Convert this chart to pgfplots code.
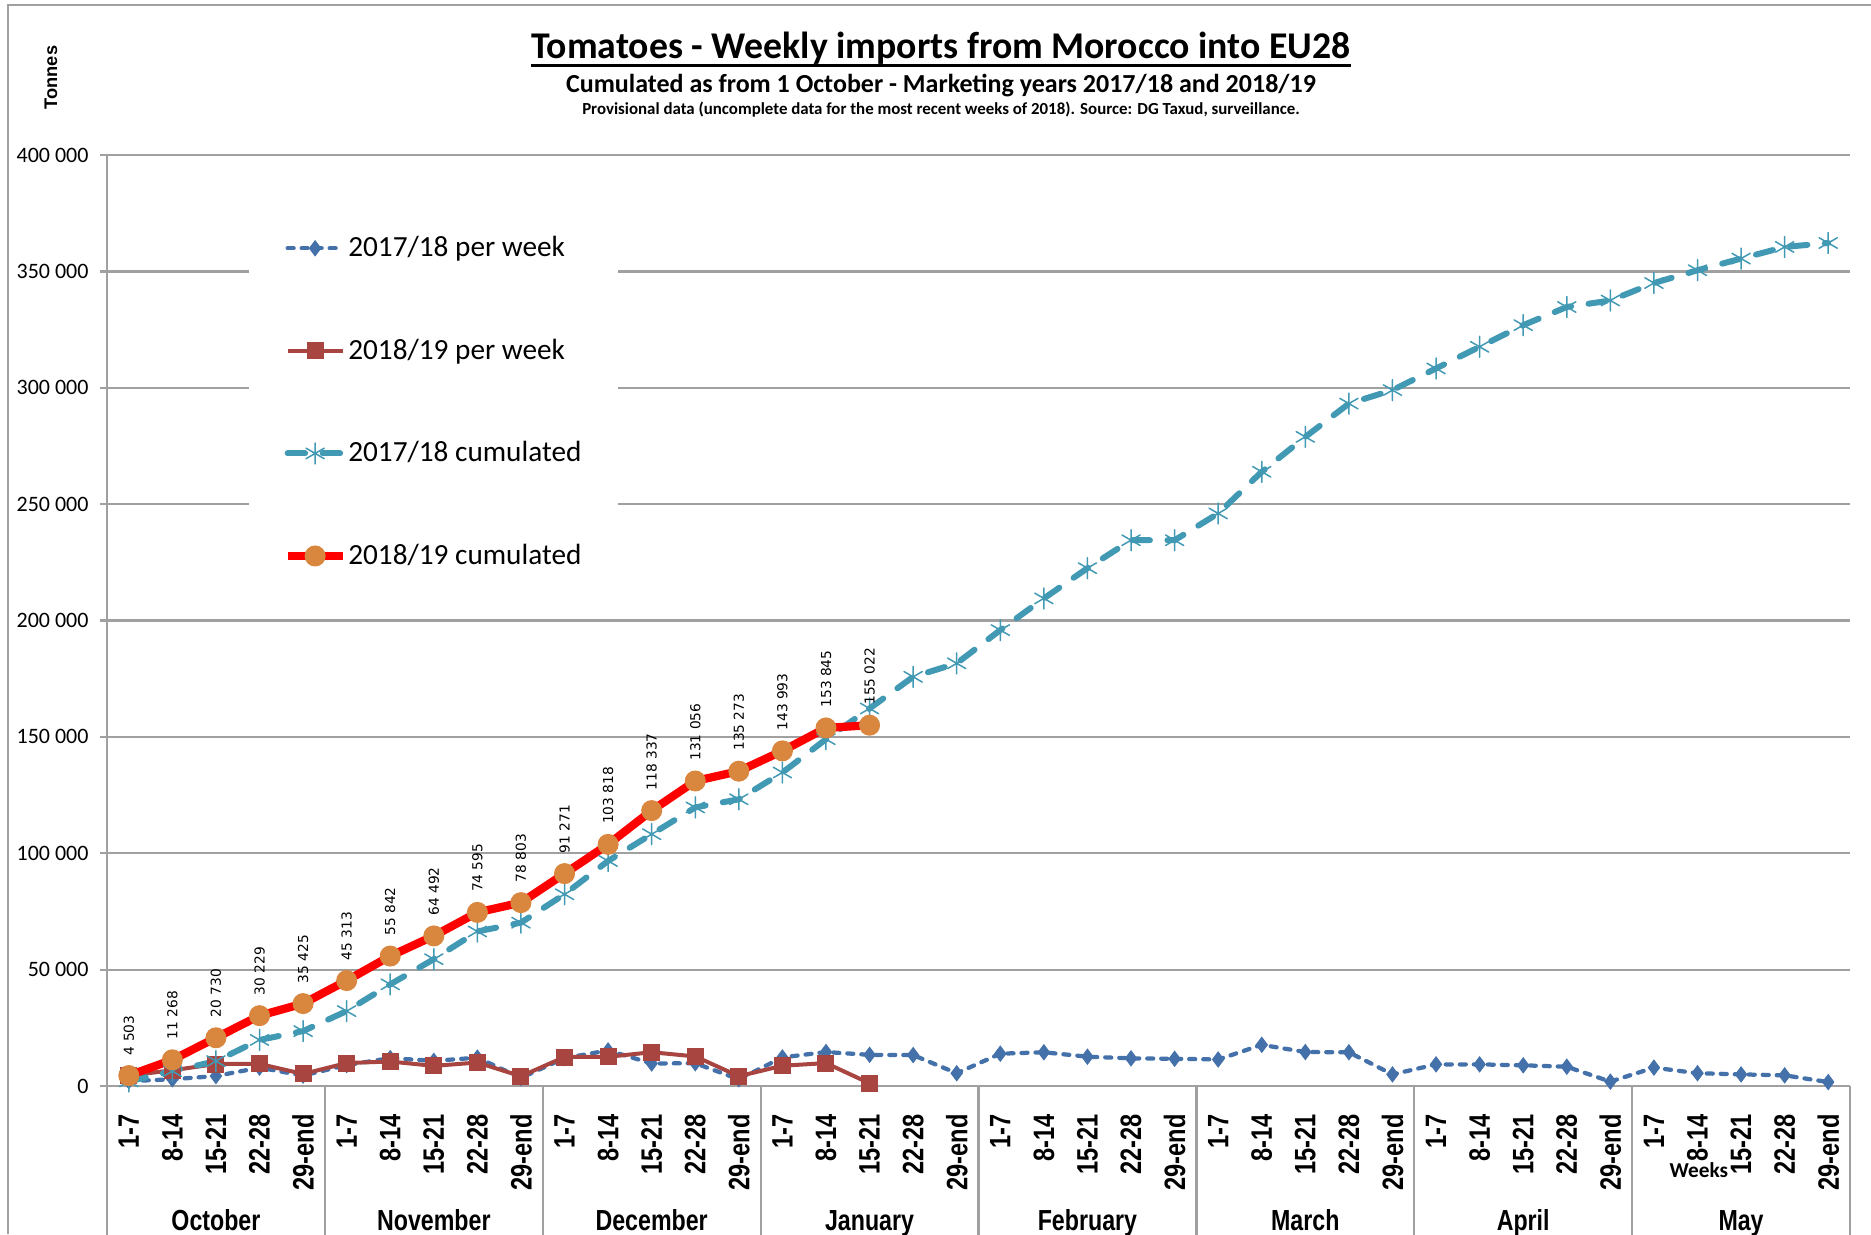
\documentclass[border=0pt]{standalone}
\usepackage{pgfplots}
\pgfplotsset{compat=1.18}
\usepackage{fontspec}
\setmainfont{Carlito}
\newfontfamily\carlito{Carlito}
\newfontfamily\narrowbf[FakeStretch=0.8]{Liberation Sans Bold}
\newfontfamily\arialbf{Liberation Sans Bold}
\newfontfamily\dejavu{DejaVu Sans}
\definecolor{blueW}{HTML}{4571AA}
\definecolor{redW}{HTML}{A84541}
\definecolor{tealC}{HTML}{4299B4}
\definecolor{orangeC}{HTML}{D9863E}
\definecolor{gridgray}{HTML}{A0A0A0}
\tikzset{
  sep/.style={gridgray, line width=0.9pt},
  month/.style={anchor=base, inner sep=0pt, font=\narrowbf\fontsize{11.6}{12}\selectfont, yshift=-57.6pt},
}
\begin{document}
\begin{tikzpicture}
\useasboundingbox (0pt,0pt) rectangle (748.4pt,-493.6pt);
\draw[gridgray, line width=0.8pt] (3.2pt,-493.6pt) -- (3.2pt,-2pt) -- (748.4pt,-2pt);
% titles
\node[anchor=base, inner sep=0pt, font=\carlito\bfseries\fontsize{15.1}{18}\selectfont] (t) at (376.4pt,-23.2pt) {Tomatoes - Weekly imports from Morocco into EU28};
\draw[line width=1.3pt] ([yshift=-0.4pt]t.south west) -- ([yshift=-0.4pt]t.south east);
\node[anchor=base, inner sep=0pt, font=\carlito\bfseries\fontsize{10.4}{12}\selectfont] at (376.4pt,-36.8pt) {Cumulated as from 1 October - Marketing years 2017/18 and 2018/19};
\node[anchor=base, inner sep=0pt, font=\carlito\bfseries\fontsize{6.75}{7.5}\selectfont] at (376.4pt,-45.8pt) {Provisional data (uncomplete data for the most recent weeks of 2018). Source: DG Taxud, surveillance.};
\node[rotate=90, inner sep=0pt, font=\arialbf\fontsize{7.3}{8}\selectfont] at (20.4pt,-31pt) {Tonnes};
\begin{axis}[
  at={(42.8pt,-434.4pt)}, anchor=south west, scale only axis,
  width=697.2pt, height=372.4pt,
  xmin=-0.5, xmax=39.5, ymin=0, ymax=400000,
  clip=false,
  axis lines*=left,
  axis line style={gridgray, line width=0.9pt},
  ytick={0,50000,...,400000},
  ymajorgrids, grid style={gridgray, line width=0.9pt},
  scaled y ticks=false,
  tick align=outside, major tick length=2.8pt,
  ytick style={gridgray, line width=0.9pt},
  xtick style={draw=none},
  yticklabel style={font=\carlito\fontsize{8.8}{10}\selectfont, inner sep=0pt, xshift=-4.4pt,
    /pgf/number format/fixed, /pgf/number format/1000 sep={\ }, /pgf/number format/assume math mode=true},
  xtick={0,...,39},
  xticklabels={1-7,8-14,15-21,22-28,29-end,1-7,8-14,15-21,22-28,29-end,1-7,8-14,15-21,22-28,29-end,1-7,8-14,15-21,22-28,29-end,1-7,8-14,15-21,22-28,29-end,1-7,8-14,15-21,22-28,29-end,1-7,8-14,15-21,22-28,29-end,1-7,8-14,15-21,22-28,29-end},
  xticklabel style={rotate=90, anchor=east, inner sep=0pt, font=\narrowbf\fontsize{11.8}{12}\selectfont},
  xticklabel shift=8.4pt,
  legend style={at={(0.0809,0.9455)}, anchor=north west, draw=none, fill=white,
    inner xsep=14pt, inner ysep=12pt, row sep=31.4pt,
    font=\carlito\fontsize{11.7}{13}\selectfont,
    cells={anchor=west}, nodes={inner xsep=0.6pt, inner ysep=0pt}},
  legend image code/.code={\draw[mark repeat=2,mark phase=2,#1] plot coordinates {(0pt,0pt) (11pt,0pt) (22pt,0pt)};},
]
% separators and month labels
\draw[sep] (axis cs:-0.5,0) -- ++(0pt,-60pt);
\draw[sep] (axis cs:4.5,0) -- ++(0pt,-60pt);
\draw[sep] (axis cs:9.5,0) -- ++(0pt,-60pt);
\draw[sep] (axis cs:14.5,0) -- ++(0pt,-60pt);
\draw[sep] (axis cs:19.5,0) -- ++(0pt,-60pt);
\draw[sep] (axis cs:24.5,0) -- ++(0pt,-60pt);
\draw[sep] (axis cs:29.5,0) -- ++(0pt,-60pt);
\draw[sep] (axis cs:34.5,0) -- ++(0pt,-60pt);
\draw[sep] (axis cs:39.5,0) -- ++(0pt,-60pt);
\node[month] at (axis cs:2,0) {October};
\node[month] at (axis cs:7,0) {November};
\node[month] at (axis cs:12,0) {December};
\node[month] at (axis cs:17,0) {January};
\node[month] at (axis cs:22,0) {February};
\node[month] at (axis cs:27,0) {March};
\node[month] at (axis cs:32,0) {April};
\node[month] at (axis cs:37,0) {May};
\node[inner sep=0pt, font=\carlito\bfseries\fontsize{8.5}{9}\selectfont, yshift=-33.6pt] at (axis cs:36.03,0) {Weeks};

\addplot[blueW, line width=1.7pt, dash pattern=on 2.4pt off 3.2pt, line cap=round,
  mark=diamond*, mark size=3pt, mark options={solid, fill=blueW, line width=0.4pt}]
  coordinates {(0,2100)(1,2900)(2,4300)(3,7900)(4,4500)(5,9000)(6,12000)(7,10800)(8,12200)(9,3500)
  (10,12000)(11,15300)(12,9700)(13,9800)(14,2900)(15,12300)(16,14600)(17,13400)(18,13300)(19,5500)
  (20,13900)(21,14500)(22,12600)(23,11900)(24,11700)(25,11400)(26,17700)(27,14600)(28,14500)(29,5000)
  (30,9300)(31,9300)(32,8900)(33,8300)(34,1900)(35,7900)(36,5500)(37,5000)(38,4600)(39,1700)};
\addlegendentry{2017/18 per week}
\addplot[redW, line width=1.6pt,
  mark=square*, mark size=3.2pt, mark options={solid, fill=redW, line width=0.4pt}]
  coordinates {(0,4503)(1,6765)(2,9462)(3,9499)(4,5196)(5,9888)(6,10529)(7,8650)(8,10103)(9,4208)
  (10,12468)(11,12547)(12,14519)(13,12719)(14,4217)(15,8720)(16,9852)(17,1177)};
\addlegendentry{2018/19 per week}
\addplot[tealC, line width=2.4pt, dash pattern=on 7pt off 7pt, line cap=round,
  mark=asterisk, mark size=4.2pt, mark options={solid, line width=0.6pt}]
  coordinates {(0,2000)(1,6400)(2,10700)(3,19800)(4,23600)(5,32200)(6,43700)(7,54500)(8,66400)(9,70200)
  (10,82400)(11,96700)(12,108200)(13,119700)(14,123200)(15,134700)(16,149000)(17,162200)(18,175800)(19,181600)
  (20,195900)(21,209500)(22,222500)(23,234500)(24,234500)(25,246000)(26,263900)(27,278900)(28,293200)(29,299000)
  (30,308300)(31,317600)(32,326900)(33,334700)(34,337500)(35,345000)(36,350500)(37,355500)(38,360500)(39,362200)};
\addlegendentry{2017/18 cumulated}
\addplot[red, line width=3.3pt, line join=round,
  mark=*, mark size=4pt, mark options={solid, fill=orangeC, draw=orangeC, line width=0.4pt},
  point meta=y,
  nodes near coords={\pgfmathprintnumber[fixed,precision=0,1000 sep={\ },assume math mode=true]{\pgfplotspointmeta}},
  every node near coord/.append style={rotate=90, anchor=west, inner sep=0pt, inner xsep=8pt, text=black, font=\dejavu\fontsize{5.5}{6}\selectfont}]
  coordinates {(0,4503)(1,11268)(2,20730)(3,30229)(4,35425)(5,45313)(6,55842)(7,64492)(8,74595)(9,78803)
  (10,91271)(11,103818)(12,118337)(13,131056)(14,135273)(15,143993)(16,153845)(17,155022)};
\addlegendentry{2018/19 cumulated}
\end{axis}
\end{tikzpicture}
\end{document}
